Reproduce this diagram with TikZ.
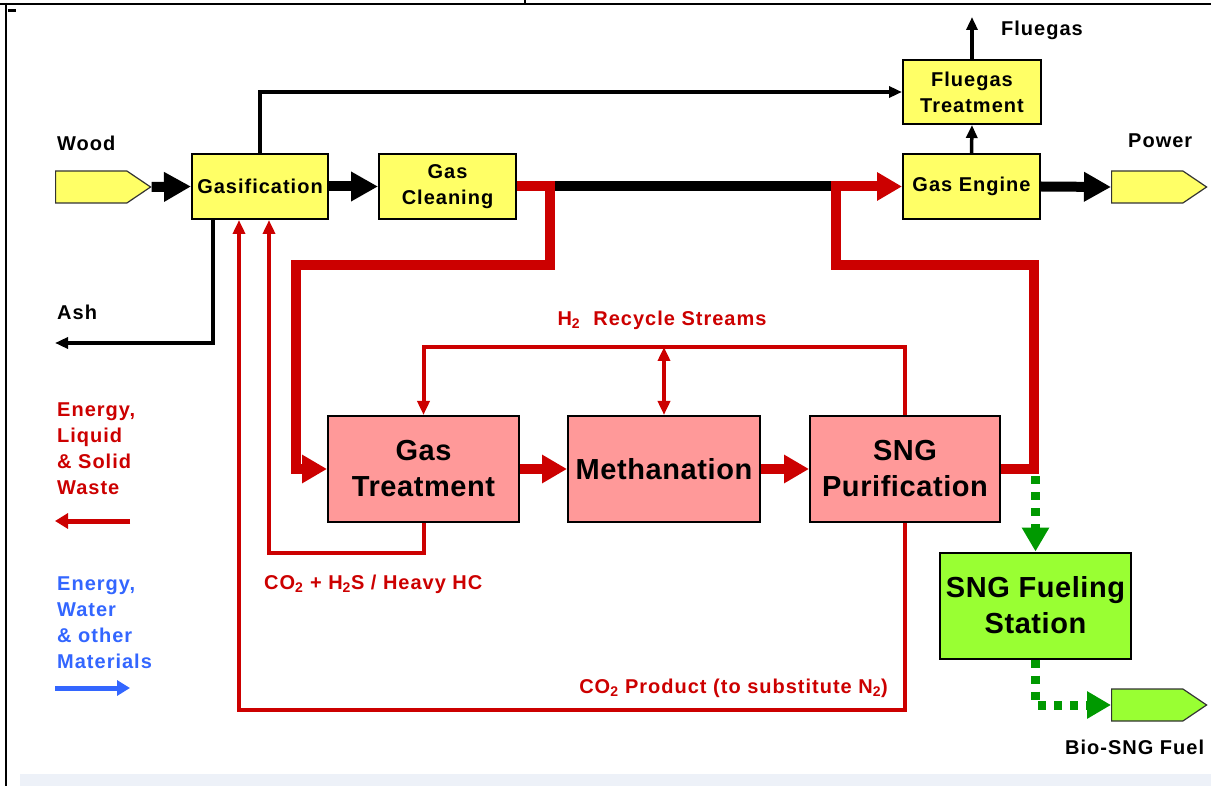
\documentclass[tikz,border=0pt]{standalone}
\usepackage{fontspec}
\setmainfont{Liberation Sans}
\usetikzlibrary{arrows.meta,shapes.symbols}
\definecolor{yel}{HTML}{FFFF66}
\definecolor{pinkb}{HTML}{FF9999}
\definecolor{limeb}{HTML}{99FF33}
\definecolor{redc}{HTML}{CC0000}
\definecolor{greenc}{HTML}{009900}
\definecolor{bluec}{HTML}{3366FF}
\definecolor{bandc}{HTML}{EDF1F8}
\begin{document}
\begin{tikzpicture}[x=1pt,y=-1pt,
  ybox/.style={draw=black, line width=2pt, fill=yel, inner sep=0pt, align=center,
    font=\fontsize{20}{26}\selectfont\bfseries\addfontfeature{LetterSpace=5}},
  pbox/.style={draw=black, line width=2pt, fill=pinkb, inner sep=0pt, align=center,
    minimum height=106, font=\fontsize{29}{36}\selectfont\bfseries\addfontfeature{LetterSpace=2}},
  sig/.style={shape=signal, signal to=east, signal pointer angle=68, draw=black!80,
    line width=1.2pt, inner sep=0pt, minimum width=95, minimum height=32, anchor=west},
  lab/.style={inner sep=0pt, font=\fontsize{20}{26}\selectfont\bfseries\addfontfeature{LetterSpace=5}},
  rlab/.style={inner sep=0pt, text=redc, font=\fontsize{20}{24}\selectfont\bfseries\addfontfeature{LetterSpace=5}},
  bigblk/.style={line width=10pt, -{Triangle[length=27pt,width=28pt]}},
  blkthin/.style={line width=3.5pt, -{Triangle[length=13pt,width=11pt]}},
  redthick/.style={draw=redc, line width=10pt},
  redarr/.style={redthick, -{Triangle[length=25pt,width=27pt]}},
  redthin/.style={draw=redc, line width=4pt, -{Triangle[length=14pt,width=12pt]}},
  gdash/.style={draw=greenc, line width=9pt, dash pattern=on 8pt off 8pt,
    -{Triangle[length=24pt,width=26pt]}},
]
\useasboundingbox (0,0) rectangle (1211,786);
% frame
\fill[bandc] (20,774) rectangle (1211,786);
\draw[line width=2pt] (0,4) -- (1211,4);
\draw[line width=2pt] (525,0) -- (525,4);
\draw[line width=2pt] (6,3) -- (6,786);
\draw[line width=3pt] (8,11) -- (16,11);

% top row boxes
\node[ybox, minimum width=136, minimum height=65] (gas) at (260,186.5) {Gasification};
\node[ybox, minimum width=137, minimum height=65] (gc) at (447.5,186.5) {Gas\\Cleaning};
\node[ybox, minimum width=137, minimum height=65] (ge) at (971.5,186.5) {Gas Engine};
\node[ybox, minimum width=138, minimum height=64] (ft) at (972,92) {Fluegas\\Treatment};
\node[sig, fill=yel] (wood) at (55,187) {};
\node[sig, fill=yel] (power) at (1111,187) {};

% pink boxes
\node[pbox, minimum width=191] (gt) at (423.5,469) {Gas\\Treatment};
\node[pbox, minimum width=192] (meth) at (664,469) {Methanation};
\node[pbox, minimum width=190] (sngp) at (905,469) {SNG\\Purification};
\node[pbox, fill=limeb, minimum width=191] (fs) at (1035.5,605.5) {SNG Fueling\\Station};
\node[sig, fill=limeb] (bio) at (1111,705) {};

% labels
\node[lab, anchor=west] (lwood) at (57,143) {Wood};
\node[lab, anchor=west] (lash) at (57,312) {Ash};
\node[lab, anchor=west] (lpower) at (1128,141) {Power};
\node[lab, anchor=west] (lflue) at (1001,30) {Fluegas};
\node[lab, anchor=west] (lbio) at (1065,747) {Bio-SNG Fuel};
\node[rlab] (lh2) at (662,320) {H\textsubscript{2}\ \ Recycle Streams};
\node[rlab, anchor=west] (lco2a) at (264,584) {CO\textsubscript{2} + H\textsubscript{2}S / Heavy HC};
\node[rlab, anchor=east] (lco2b) at (888,688) {CO\textsubscript{2} Product (to substitute N\textsubscript{2})};
\node[lab, anchor=north west, align=left, text=redc] (legr) at (57,403)
  {Energy,\\Liquid\\\& Solid\\Waste};
\node[lab, anchor=north west, align=left, text=bluec] (legb) at (57,577)
  {Energy,\\Water\\\& other\\Materials};

% coordinates
\coordinate (fgout) at (972,17);
\coordinate (ashx) at (213,0);
\coordinate (ashend) at (55,343);
\coordinate (h2) at (0,347);
\coordinate (c1) at (269,553);
\coordinate (c2) at (239,710);
\coordinate (lr1) at (130,521);
\coordinate (lr2) at (55,521);
\coordinate (lb1) at (55,688);
\coordinate (lb2) at (130,688);

% black connectors
\draw[bigblk] (wood.east) -- (gas.west);
\draw[bigblk] (gas.east) -- (gc.west);
\draw[bigblk] (ge.east) -- (power.west);
\draw[blkthin] (ge.north) -- (ft.south);
\draw[blkthin] (ft.north) -- (fgout);
\draw[blkthin] (gas.north) |- (ft.west);
\draw[blkthin] (gas.south -| ashx) |- (ashend);

% red main streams
\draw[line width=10pt] (555,186.5) -- (831,186.5);
\draw[redarr] (gc.east) -- (550,186.5) -- (550,265) -- (296,265) |- (gt.west);
\draw[redarr] (831,186.5) -- (ge.west);
\draw[redthick] (sngp.east) -| (1034,265) -| (836,181.5);
\draw[redarr] (gt.east) -- (meth.west);
\draw[redarr] (meth.east) -- (sngp.west);

% H2 recycle
\draw[redthin] (sngp.north) |- (h2 -| gt.north) -- (gt.north);
\draw[redthin, {Triangle[length=14pt,width=12pt]}-{Triangle[length=14pt,width=12pt]}] (h2 -| meth.north) -- (meth.north);

% CO2 returns
\draw[redthin] (gt.south) |- (c1) -- (c1 |- gas.south);
\draw[redthin] (sngp.south) |- (c2) -- (c2 |- gas.south);

% green
\draw[gdash] (fs.north |- 0,476) -- (fs.north);
\draw[gdash] (fs.south) |- (bio.west);

% legend arrows
\draw[redc, line width=5pt, -{Triangle[length=13pt,width=15pt]}] (lr1) -- (lr2);
\draw[bluec, line width=5pt, -{Triangle[length=13pt,width=15pt]}] (lb1) -- (lb2);
\end{tikzpicture}
\end{document}
